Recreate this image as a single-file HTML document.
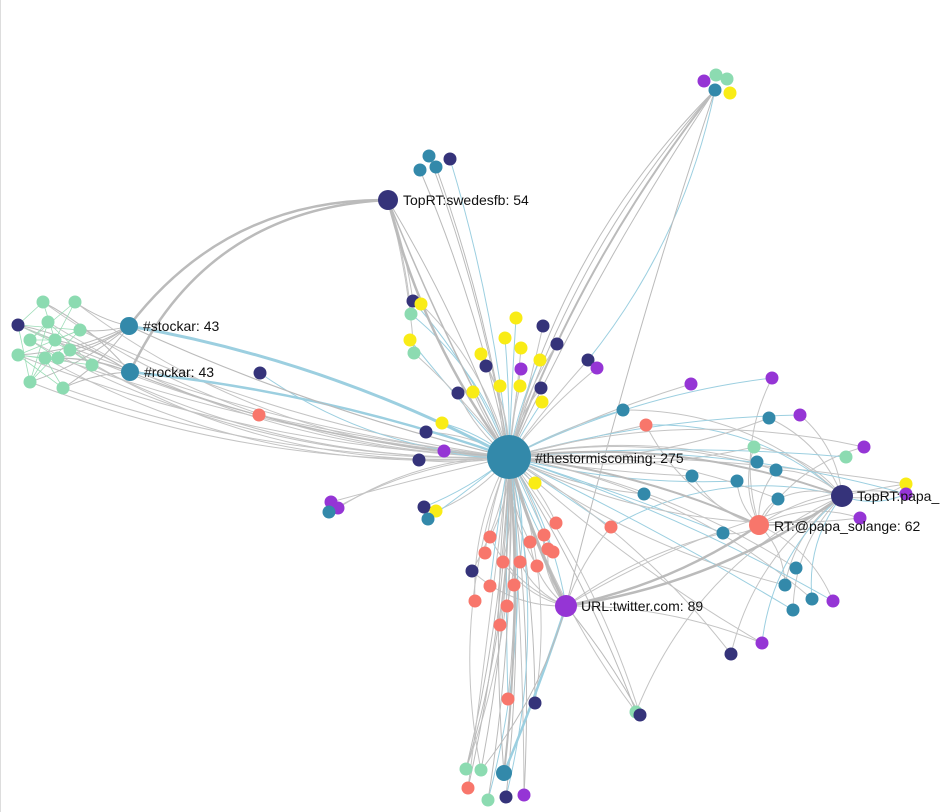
<!DOCTYPE html>
<html><head><meta charset="utf-8"><style>
html,body{margin:0;padding:0;background:#fff;width:942px;height:812px;overflow:hidden}
svg{position:absolute;left:0;top:0}
text{font-family:"Liberation Sans",Arial,sans-serif;font-size:14px;fill:#111}
</style></head><body>
<svg id="g" width="942" height="812" xmlns="http://www.w3.org/2000/svg">
<line x1="0.5" y1="0" x2="0.5" y2="812" stroke="#ddd"/>
<g id="edges" fill="none"></g>
<g id="nodes"></g>
<g>
<text x="535" y="463">#thestormiscoming: 275</text>
<text x="581" y="611">URL:twitter.com: 89</text>
<text x="403" y="205">TopRT:swedesfb: 54</text>
<text x="143" y="331">#stockar: 43</text>
<text x="144" y="377">#rockar: 43</text>
<text x="774" y="531">RT:@papa_solange: 62</text>
<text x="857" y="501">TopRT:papa_</text>
</g>
</svg>
<script>
var C={t:"#3389aa",n:"#35337a",p:"#9535d5",y:"#f9ec16",m:"#8cdbb1",s:"#f8766b"};
var H=[509,457],U=[566,606],S=[388,200],K=[129,326],R=[130,372],P=[759,525],Q=[842,496];
var nodes=[
[43,302,"m"],[75,302,"m"],[18,325,"n"],[48,322,"m"],[80,330,"m"],[30,340,"m"],[55,340,"m"],[18,355,"m"],[45,358,"m"],[70,350,"m"],[92,365,"m"],[30,382,"m"],[63,388,"m"],[58,358,"m"],
[704,81,"p"],[716,75,"m"],[727,79,"m"],[715,90,"t"],[730,93,"y"],
[429,156,"t"],[450,159,"n"],[436,167,"t"],[420,170,"t"],
[413,301,"n"],[421,304,"y"],[411,314,"m"],[516,318,"y"],[543,326,"n"],[410,340,"y"],[414,353,"m"],[481,354,"y"],[521,348,"y"],[505,338,"y"],[486,366,"n"],[521,369,"p"],[540,360,"y"],[557,344,"n"],[588,360,"n"],[597,368,"p"],[473,392,"y"],[500,386,"y"],[520,386,"y"],[541,388,"n"],[542,402,"y"],[458,393,"n"],[260,373,"n"],[259,415,"s"],[442,423,"y"],[426,432,"n"],[444,451,"p"],[419,460,"n"],[331,502,"p"],[338,508,"p"],[329,512,"t"],[424,507,"n"],[436,511,"y"],[428,519,"t"],[535,483,"y"],
[556,523,"s"],[544,535,"s"],[530,542,"s"],[548,549,"s"],[490,537,"s"],[485,553,"s"],[503,562,"s"],[520,562,"s"],[537,566,"s"],[553,552,"s"],[472,571,"n"],[490,586,"s"],[514,585,"s"],[475,601,"s"],[507,606,"s"],[500,625,"s"],
[623,410,"t"],[646,425,"s"],[691,384,"p"],[772,378,"p"],[769,418,"t"],[800,415,"p"],[754,447,"m"],[757,462,"t"],[776,470,"t"],[692,476,"t"],[737,481,"t"],[644,494,"t"],[611,527,"s"],[723,533,"t"],[778,499,"t"],[864,447,"p"],[846,457,"m"],[906,484,"y"],[906,494,"p"],[796,568,"t"],[785,585,"t"],[793,610,"t"],[812,599,"t"],[833,601,"p"],[860,518,"p"],[762,643,"p"],[731,654,"n"],
[636,712,"m"],[640,715,"n"],[508,699,"s"],[535,703,"n"],[466,769,"m"],[481,770,"m"],[468,788,"s"],[524,795,"p"],[506,797,"n"],[488,800,"m"]];
var E=document.getElementById("edges"),N=document.getElementById("nodes"),ns="http://www.w3.org/2000/svg";
function edge(a,b,col,w,bend){var mx=(a[0]+b[0])/2,my=(a[1]+b[1])/2,dx=b[0]-a[0],dy=b[1]-a[1];
var cx=mx-dy*bend,cy=my+dx*bend;var p=document.createElementNS(ns,"path");
p.setAttribute("d","M"+a[0]+","+a[1]+"Q"+cx+","+cy+" "+b[0]+","+b[1]);p.setAttribute("stroke",col);p.setAttribute("stroke-width",w);E.appendChild(p);}
var seed=3;function rnd(){seed=(seed*9301+49297)%233280;return seed/233280;}
nodes.forEach(function(n,i){
 if(i<14){ for(var j=0;j<14;j++){ if(j>i && rnd()<0.3) edge(n,nodes[j],"#9bdcb6",0.8,0);} if(rnd()<0.5)edge(n,K,"#bbb",1,0.1);edge(n,H,"#c4c4c4",1,0.05+rnd()*0.15);if(rnd()<0.3)edge(n,R,"#bbb",1,-0.1);return;}
 if(i<19){ if(i==17){edge(n,H,"#bbb",2,0.08);edge(n,H,"#bbb",1,0.04);edge(n,H,"#bbb",1,0.14);edge(n,H,"#bbb",1,0.11);edge(n,[588,360],"#9ccfe0",1,-0.12);edge(n,U,"#bbb",1,0.02);} return;}
 if(i<23){ edge(n,H,i==20?"#9ccfe0":"#bbb",1,-0.05); return;}
 edge(n,H,rnd()<0.2?"#9ccfe0":"#c4c4c4",1,(rnd()-0.5)*0.3);
 if(n[0]>600&&n[1]>350){ if(rnd()<0.5)edge(n,P,"#c4c4c4",1,0.2); if(rnd()<0.5)edge(n,Q,rnd()<0.3?"#9ccfe0":"#c4c4c4",1,-0.2); if(rnd()<0.2)edge(n,U,"#c4c4c4",1,0.1);}
 if(n[1]>520&&n[1]<640&&n[0]<620&&rnd()<0.3) edge(n,U,"#c4c4c4",1,0.2);
 if(n[1]>690&&n[0]<560){edge(n,H,"#bbb",1,0.05);}
 if(n[1]>290&&n[1]<420&&n[0]<440&&rnd()<0.5) edge(n,S,"#c4c4c4",1,0.05);
});
edge(S,H,"#bbb",2.5,0.1);edge(S,H,"#bbb",1.5,0.03);edge(S,H,"#bbb",1,-0.05);edge(K,H,"#9ccfe0",3,-0.08);edge(R,H,"#9ccfe0",2.5,-0.06);
edge(K,S,"#bbb",2.5,-0.25);edge(R,S,"#bbb",2.5,-0.3);edge(K,H,"#bbb",1.2,0.05);edge(R,H,"#bbb",1.2,0.08);
edge(H,U,"#bbb",3,0.05);edge(H,U,"#9ccfe0",1,-0.1);edge(H,P,"#bbb",2,-0.08);edge(H,Q,"#bbb",2,-0.12);edge(U,P,"#bbb",2.5,0.1);edge(U,Q,"#bbb",2.5,0.12);edge(P,Q,"#bbb",1.5,0.2);
edge([504,773],U,"#9ccfe0",2.5,0.02);edge([504,773],H,"#bbb",2,0.05);edge([504,773],H,"#bbb",1,-0.05);edge([466,769],H,"#bbb",1,0.08);edge([481,770],U,"#bbb",1,0.1);
edge([636,712],H,"#bbb",1,0.05);edge([640,715],U,"#bbb",1,0.05);
nodes.forEach(function(n){var c=document.createElementNS(ns,"circle");c.setAttribute("cx",n[0]);c.setAttribute("cy",n[1]);c.setAttribute("r",6.5);c.setAttribute("fill",C[n[2]]);N.appendChild(c);});
[[H,22,"t"],[U,11,"p"],[S,10,"n"],[K,9,"t"],[R,9,"t"],[P,10,"s"],[Q,11,"n"],[[504,773],8,"t"]].forEach(function(h){var c=document.createElementNS(ns,"circle");c.setAttribute("cx",h[0][0]);c.setAttribute("cy",h[0][1]);c.setAttribute("r",h[1]);c.setAttribute("fill",C[h[2]]);N.appendChild(c);});
</script>
</body></html>
